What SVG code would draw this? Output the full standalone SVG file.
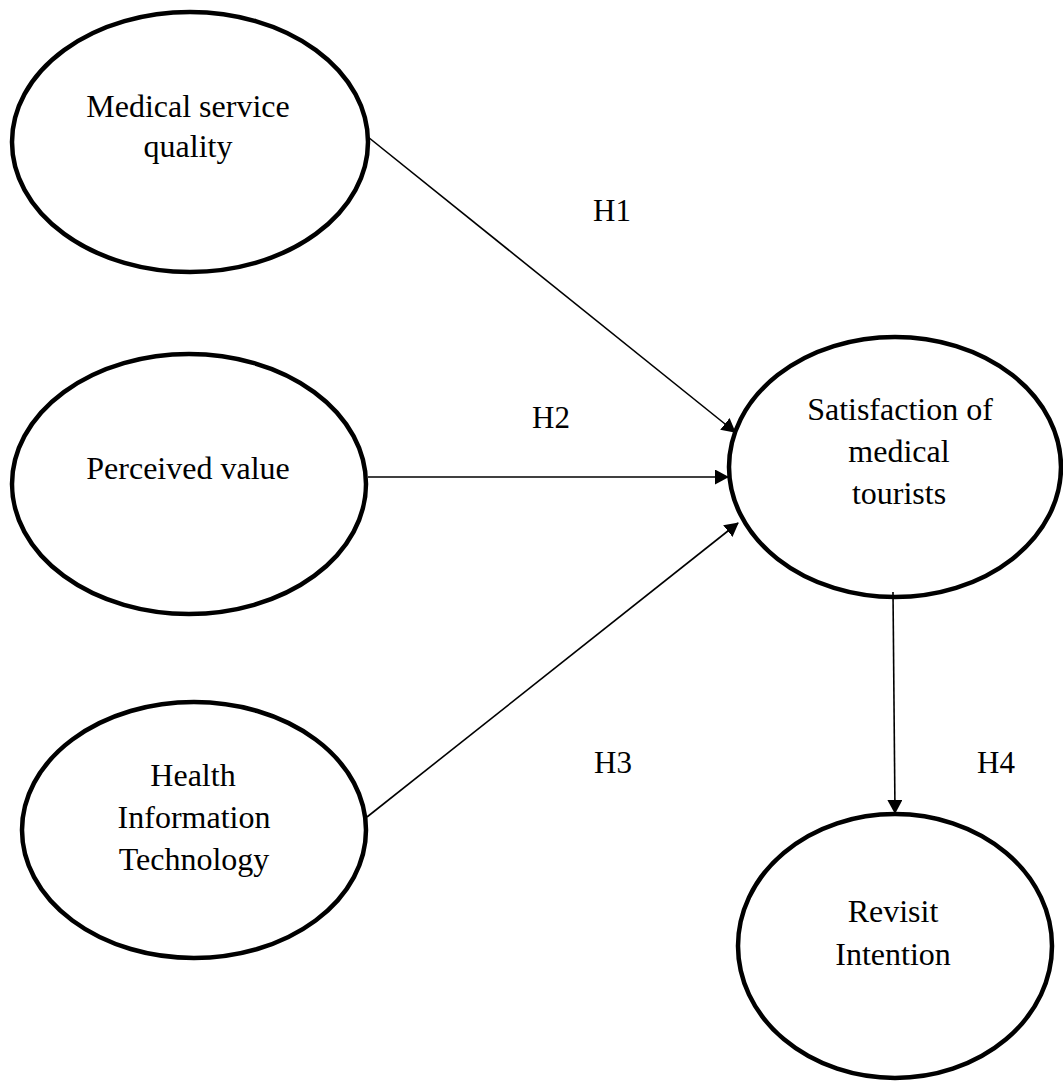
<svg xmlns="http://www.w3.org/2000/svg" width="1063" height="1081" viewBox="0 0 1063 1081">
<style>
.node{fill:#fff;stroke:#000;stroke-width:4.5}
.lbl{font-family:"Liberation Serif","Times New Roman",serif;font-size:32px;fill:#000;text-anchor:middle}
.h{font-family:"Liberation Serif","Times New Roman",serif;font-size:31px;fill:#000}
.edge{stroke:#000;stroke-width:1.6;fill:none;marker-end:url(#arr)}
</style>
<defs>
<marker id="arr" markerUnits="userSpaceOnUse" markerWidth="14" markerHeight="15" refX="13" refY="7.5" orient="auto">
<path d="M0,0 L14,7.5 L0,15 z" fill="#000"/>
</marker>
</defs>
<rect width="1063" height="1081" fill="#fff"/>
<g id="n-msq">
<ellipse class="node" cx="190" cy="142" rx="178" ry="130"/>
<text class="lbl" x="188" y="117">Medical service</text>
<text class="lbl" x="188" y="157">quality</text>
</g>
<g id="n-pv">
<ellipse class="node" cx="189" cy="484" rx="177" ry="130"/>
<text class="lbl" x="188" y="479">Perceived value</text>
</g>
<g id="n-hit">
<ellipse class="node" cx="194" cy="830" rx="172" ry="128"/>
<text class="lbl" x="193" y="786">Health</text>
<text class="lbl" x="194" y="828">Information</text>
<text class="lbl" x="194" y="870">Technology</text>
</g>
<g id="n-sat">
<ellipse class="node" cx="895" cy="467" rx="166" ry="130"/>
<text class="lbl" x="900" y="420">Satisfaction of</text>
<text class="lbl" x="899" y="462">medical</text>
<text class="lbl" x="899" y="504">tourists</text>
</g>
<g id="n-ri">
<ellipse class="node" cx="895" cy="946" rx="157" ry="132"/>
<text class="lbl" x="893" y="922">Revisit</text>
<text class="lbl" x="893" y="965">Intention</text>
</g>
<g id="connectors">
<line class="edge" x1="368" y1="137" x2="735" y2="432"/>
<line class="edge" x1="368" y1="477" x2="728" y2="477"/>
<line class="edge" x1="367" y1="817" x2="738" y2="523"/>
<line class="edge" x1="893" y1="592" x2="895" y2="813"/>
<text class="h" x="593" y="221">H1</text>
<text class="h" x="532" y="428">H2</text>
<text class="h" x="594" y="773">H3</text>
<text class="h" x="977" y="773">H4</text>
</g>
</svg>
